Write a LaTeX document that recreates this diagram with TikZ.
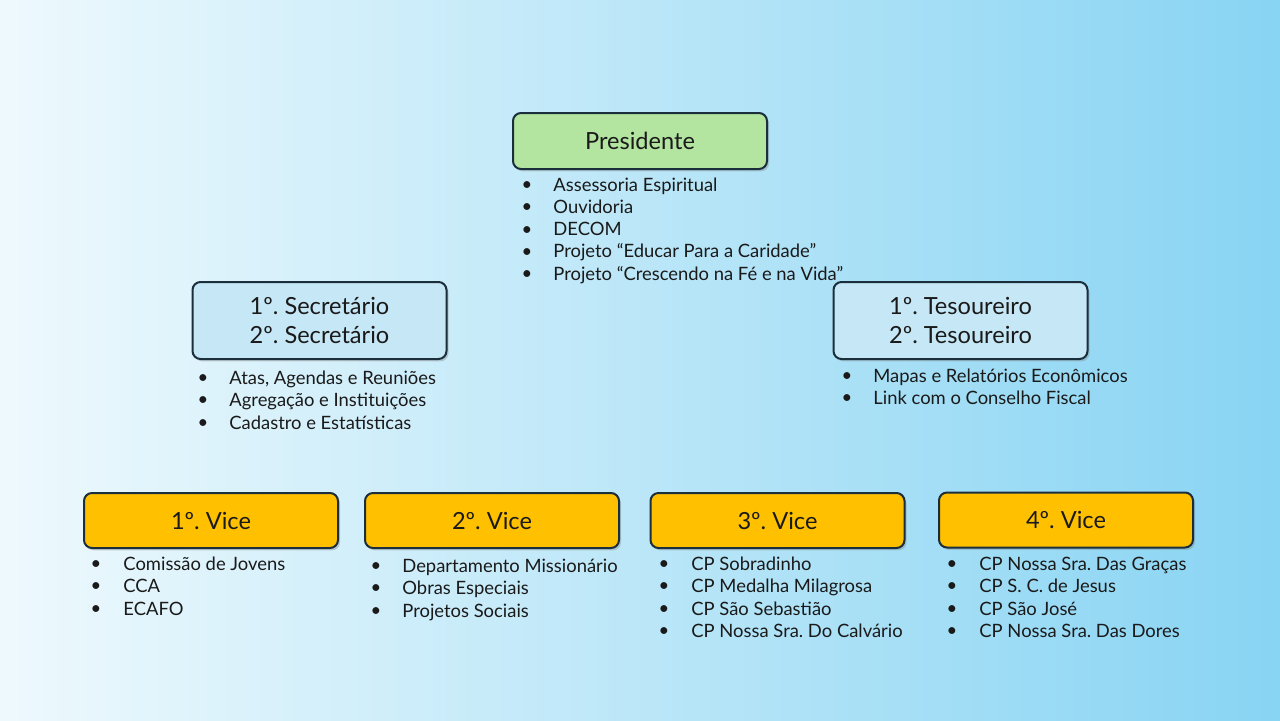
\documentclass[tikz,border=0pt]{standalone}
\usepackage{fontspec}
\setmainfont{Lato}
\frenchspacing
\usetikzlibrary{shadows}
\definecolor{navy}{HTML}{1B2E3C}
\definecolor{presgreen}{HTML}{B3E5A1}
\definecolor{secblue}{HTML}{C6E7F5}
\definecolor{viceorange}{HTML}{FFC000}
\definecolor{bgleft}{HTML}{EEF9FD}
\definecolor{bgright}{HTML}{88D4F3}
\definecolor{ink}{HTML}{1A1A1A}
\tikzset{
  box/.style={draw=navy, line width=1pt, rounded corners=4pt, minimum width=127pt,
    align=center, text=ink, font=\fontsize{11.8}{14.5}\selectfont,
    drop shadow={shadow xshift=1pt, shadow yshift=-1.2pt, opacity=0.35}},
  presbox/.style={box, fill=presgreen, minimum height=28pt},
  secbox/.style={box, fill=secblue, minimum height=38.5pt},
  vicebox/.style={box, fill=viceorange, minimum height=27.5pt},
  dot/.style={inner sep=0pt, text=ink, font=\fontsize{9.2}{10}\selectfont},
  entry/.style={anchor=west, inner sep=0pt, text=ink, text height=6.4pt, text depth=1.4pt,
    font=\fontsize{9.2}{10}\selectfont}
}
\begin{document}
\begin{tikzpicture}[x=0.5pt, y=-0.5pt]
    % background
    \useasboundingbox (0, 0) rectangle (1280, 720);
    \shade[left color=bgleft, right color=bgright] (0, 0) rectangle (1280, 720);

    % Presidente
    \node[presbox] (pres) at (640, 141) {Presidente};
    \foreach \txt [count=\i from 0] in {Assessoria Espiritual, Ouvidoria, DECOM,
        Projeto “Educar Para a Caridade”, Projeto “Crescendo na Fé e na Vida”} {
        \node[dot] (presdot\i) at (527, 186 + 22.3*\i) {•};
        \node[entry] (presitem\i) at (553, 186 + 22.3*\i) {\txt};
    }

    % Secretarios
    \node[secbox] (sec) at (319.5, 320.5) {1º. Secretário\\2º. Secretário};
    \foreach \txt [count=\i from 0] in {{Atas, Agendas e Reuniões}, Agregação e Instituições,
        Cadastro e Estatísticas} {
        \node[dot] (secdot\i) at (203, 379 + 22.5*\i) {•};
        \node[entry] (secitem\i) at (229, 379 + 22.5*\i) {\txt};
    }

    % Tesoureiros
    \node[secbox] (tes) at (960.5, 320.5) {1º. Tesoureiro\\2º. Tesoureiro};
    \foreach \txt [count=\i from 0] in {Mapas e Relatórios Econômicos, Link com o Conselho Fiscal} {
        \node[dot] (tesdot\i) at (847, 377 + 22.5*\i) {•};
        \node[entry] (tesitem\i) at (873, 377 + 22.5*\i) {\txt};
    }

    % 1 Vice
    \node[vicebox] (vicea) at (211, 520.5) {1º. Vice};
    \foreach \txt [count=\i from 0] in {Comissão de Jovens, CCA, ECAFO} {
        \node[dot] (viceadot\i) at (96, 565 + 22.5*\i) {•};
        \node[entry] (viceaitem\i) at (123, 565 + 22.5*\i) {\txt};
    }

    % 2 Vice
    \node[vicebox] (viceb) at (492, 520.5) {2º. Vice};
    \foreach \txt [count=\i from 0] in {Departamento Missionário, Obras Especiais, Projetos Sociais} {
        \node[dot] (vicebdot\i) at (376, 567 + 22.5*\i) {•};
        \node[entry] (vicebitem\i) at (402, 567 + 22.5*\i) {\txt};
    }

    % 3 Vice
    \node[vicebox] (vicec) at (777.5, 520.5) {3º. Vice};
    \foreach \txt [count=\i from 0] in {CP Sobradinho, CP Medalha Milagrosa, CP São Sebastião,
        CP Nossa Sra. Do Calvário} {
        \node[dot] (vicecdot\i) at (664, 565 + 22.5*\i) {•};
        \node[entry] (viceitem\i) at (691, 565 + 22.5*\i) {\txt};
    }

    % 4 Vice
    \node[vicebox] (viced) at (1066, 520) {4º. Vice};
    \foreach \txt [count=\i from 0] in {CP Nossa Sra. Das Graças, CP S. C. de Jesus, CP São José,
        CP Nossa Sra. Das Dores} {
        \node[dot] (viceddot\i) at (952, 565 + 22.5*\i) {•};
        \node[entry] (viceditem\i) at (979, 565 + 22.5*\i) {\txt};
    }
\end{tikzpicture}
\end{document}
